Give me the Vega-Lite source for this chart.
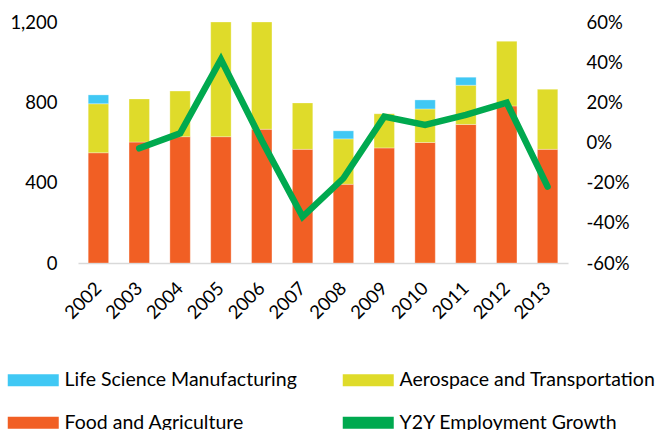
{
  "$schema": "https://vega.github.io/schema/vega-lite/v6.json",
  "width": 490,
  "height": 241,
  "autosize": {"type": "none"},
  "padding": {"left": 78, "top": 22, "right": 99, "bottom": 167},
  "background": "white",
  "config": {
    "view": {"stroke": null},
    "font": "Lato",
    "axis": {"labelFont": "Lato", "labelFontSize": 18.5, "labelColor": "#000000", "grid": false, "ticks": false, "title": null}
  },
  "datasets": {
    "bars": [
      {"year": "2002", "sector": "Food and Agriculture", "ord": 1, "jobs": 549},
      {"year": "2002", "sector": "Aerospace and Transportation", "ord": 2, "jobs": 244},
      {"year": "2002", "sector": "Life Science Manufacturing", "ord": 3, "jobs": 44},
      {"year": "2003", "sector": "Food and Agriculture", "ord": 1, "jobs": 602},
      {"year": "2003", "sector": "Aerospace and Transportation", "ord": 2, "jobs": 215},
      {"year": "2004", "sector": "Food and Agriculture", "ord": 1, "jobs": 629},
      {"year": "2004", "sector": "Aerospace and Transportation", "ord": 2, "jobs": 227},
      {"year": "2005", "sector": "Food and Agriculture", "ord": 1, "jobs": 629},
      {"year": "2005", "sector": "Aerospace and Transportation", "ord": 2, "jobs": 571},
      {"year": "2006", "sector": "Food and Agriculture", "ord": 1, "jobs": 666},
      {"year": "2006", "sector": "Aerospace and Transportation", "ord": 2, "jobs": 534},
      {"year": "2007", "sector": "Food and Agriculture", "ord": 1, "jobs": 566},
      {"year": "2007", "sector": "Aerospace and Transportation", "ord": 2, "jobs": 231},
      {"year": "2008", "sector": "Food and Agriculture", "ord": 1, "jobs": 392},
      {"year": "2008", "sector": "Aerospace and Transportation", "ord": 2, "jobs": 226},
      {"year": "2008", "sector": "Life Science Manufacturing", "ord": 3, "jobs": 40},
      {"year": "2009", "sector": "Food and Agriculture", "ord": 1, "jobs": 573},
      {"year": "2009", "sector": "Aerospace and Transportation", "ord": 2, "jobs": 170},
      {"year": "2010", "sector": "Food and Agriculture", "ord": 1, "jobs": 600},
      {"year": "2010", "sector": "Aerospace and Transportation", "ord": 2, "jobs": 167},
      {"year": "2010", "sector": "Life Science Manufacturing", "ord": 3, "jobs": 45},
      {"year": "2011", "sector": "Food and Agriculture", "ord": 1, "jobs": 690},
      {"year": "2011", "sector": "Aerospace and Transportation", "ord": 2, "jobs": 195},
      {"year": "2011", "sector": "Life Science Manufacturing", "ord": 3, "jobs": 40},
      {"year": "2012", "sector": "Food and Agriculture", "ord": 1, "jobs": 782},
      {"year": "2012", "sector": "Aerospace and Transportation", "ord": 2, "jobs": 322},
      {"year": "2013", "sector": "Food and Agriculture", "ord": 1, "jobs": 566},
      {"year": "2013", "sector": "Aerospace and Transportation", "ord": 2, "jobs": 299}
    ],
    "growth": [
      {"year": "2003", "series": "Y2Y Employment Growth", "g": -0.029},
      {"year": "2004", "series": "Y2Y Employment Growth", "g": 0.046},
      {"year": "2005", "series": "Y2Y Employment Growth", "g": 0.414},
      {"year": "2006", "series": "Y2Y Employment Growth", "g": 0.01},
      {"year": "2007", "series": "Y2Y Employment Growth", "g": -0.37},
      {"year": "2008", "series": "Y2Y Employment Growth", "g": -0.178},
      {"year": "2009", "series": "Y2Y Employment Growth", "g": 0.129},
      {"year": "2010", "series": "Y2Y Employment Growth", "g": 0.087},
      {"year": "2011", "series": "Y2Y Employment Growth", "g": 0.137},
      {"year": "2012", "series": "Y2Y Employment Growth", "g": 0.198},
      {"year": "2013", "series": "Y2Y Employment Growth", "g": -0.22}
    ]
  },
  "encoding": {
    "x": {
      "field": "year", "type": "ordinal",
      "scale": {"domain": ["2002","2003","2004","2005","2006","2007","2008","2009","2010","2011","2012","2013"], "paddingInner": 0.5, "paddingOuter": 0.25},
      "axis": {"labelAngle": -45, "labelAlign": "right", "labelBaseline": "middle", "labelPadding": 22, "domainColor": "#d9d9d9", "domainWidth": 1.5}
    }
  },
  "layer": [
    {
      "data": {"name": "bars"},
      "mark": {"type": "bar", "clip": true, "stroke": "white", "strokeWidth": 0.5, "strokeOpacity": 0.6},
      "encoding": {
        "y": {
          "field": "jobs", "type": "quantitative", "stack": "zero",
          "scale": {"domain": [0, 1200], "nice": false},
          "axis": {"values": [0, 400, 800, 1200], "format": ",.0f", "domain": false, "labelPadding": 21}
        },
        "order": {"field": "ord", "type": "quantitative"},
        "color": {
          "field": "sector", "type": "nominal",
          "scale": {
            "domain": ["Life Science Manufacturing", "Aerospace and Transportation", "Food and Agriculture", "Y2Y Employment Growth"],
            "range": ["#40c8f4", "#dfdb2a", "#f15f24", "#00a94f"]
          },
          "legend": {
            "title": null,
            "orient": "none",
            "legendX": -74,
            "legendY": 348,
            "direction": "horizontal",
            "columns": 2,
            "columnPadding": 42,
            "rowPadding": 22,
            "padding": 0,
            "symbolSize": 144,
            "symbolStrokeWidth": 0,
            "symbolType": "M-1,-1H7.5V1H-1Z",
            "labelFont": "Lato",
            "labelFontSize": 19.5,
            "labelColor": "#000000",
            "labelOffset": 41,
            "labelLimit": 400,
            "encode": {
              "symbols": {
                "update": {
                  "shape": {"signal": "datum.value === 'Y2Y Employment Growth' ? 'M-0.5,-0.45H7.5A0.45,0.45 0 0 1 7.5,0.45H-0.5A0.45,0.45 0 0 1 -0.5,-0.45Z' : 'M-1,-1H7.5V1H-1Z'"},
                  "strokeWidth": {"value": 0}
                }
              }
            }
          }
        }
      }
    },
    {
      "data": {"name": "growth"},
      "mark": {"type": "line", "strokeWidth": 6.5, "strokeCap": "round", "strokeJoin": "miter"},
      "encoding": {
        "y": {
          "field": "g", "type": "quantitative",
          "scale": {"domain": [-0.6, 0.6], "nice": false},
          "axis": {"orient": "right", "values": [-0.6, -0.4, -0.2, 0, 0.2, 0.4, 0.6], "labelExpr": "replace(format(datum.value, '.0%'), '−', '-')", "domain": false, "labelPadding": 18}
        },
        "color": {"field": "series", "type": "nominal"}
      }
    }
  ],
  "resolve": {"scale": {"y": "independent"}}
}
